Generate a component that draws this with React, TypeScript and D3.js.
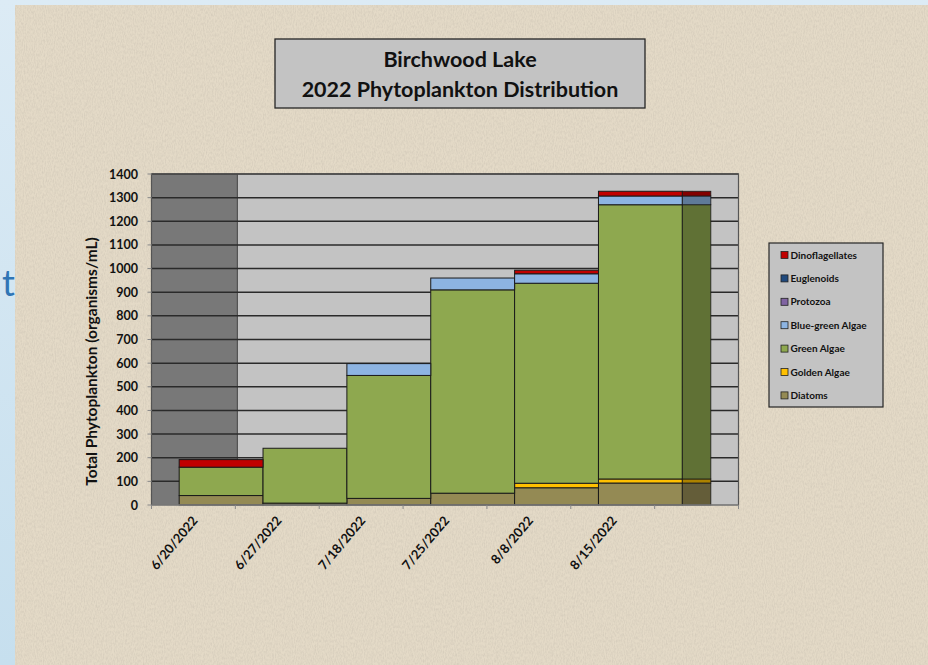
import { useEffect, useRef } from 'react';
import * as d3 from 'd3';

const dates = ["6/20/2022", "6/27/2022", "7/18/2022", "7/25/2022", "8/8/2022", "8/15/2022"];
const diatoms = [40, 8, 28, 50, 73, 93];
const goldenAlgae = [0, 0, 0, 0, 19, 17];
const greenAlgae = [120, 232, 520, 860, 846, 1160];
const blueGreenAlgae = [0, 0, 50, 50, 40, 37];
const protozoa = [0, 0, 0, 0, 0, 0];
const euglenoids = [0, 0, 0, 0, 0, 0];
const dinoflagellates = [32, 0, 0, 0, 15, 20];

// bottom to top
const seriesNames = ["Diatoms", "Golden Algae", "Green Algae", "Blue-green Algae", "Protozoa", "Euglenoids", "Dinoflagellates"];
const seriesColors = ["#948a54", "#ffc000", "#8ea84f", "#8db4e2", "#8064a2", "#1f497d", "#c00000"];
const yTicks = [0, 100, 200, 300, 400, 500, 600, 700, 800, 900, 1000, 1100, 1200, 1300, 1400];

const W = 928;
const H = 665;
const FONT = "Lato, 'Open Sans', sans-serif";

export default function App() {
  const ref = useRef<SVGSVGElement>(null);

  useEffect(() => {
    if (!ref.current) return;
    const svg = d3.select(ref.current);
    svg.selectAll("*").remove();

    const values = [diatoms, goldenAlgae, greenAlgae, blueGreenAlgae, protozoa, euglenoids, dinoflagellates];
    const rows = dates.map((d, i) => {
      const r: any = { date: d };
      seriesNames.forEach((s, j) => (r[s] = values[j][i]));
      return r;
    });
    const stacked = d3.stack<any>().keys(seriesNames)(rows);

    const left = 151.5, right = 738.5, top = 174, bottom = 505;
    // one empty slot after the last sample date
    const x = d3.scaleBand<string>().domain([...dates, ""]).range([left, right]).padding(0);
    const y = d3.scaleLinear().domain([0, 1400]).range([bottom, top]);
    const bw = x.bandwidth();
    const shift = bw * 0.33;

    // slide background
    const defs = svg.append("defs");
    const bg = defs.append("linearGradient").attr("id", "slideBg").attr("x1", "0").attr("x2", "0").attr("y1", "0").attr("y2", "1");
    bg.append("stop").attr("offset", "0%").attr("stop-color", "#dcebf5");
    bg.append("stop").attr("offset", "100%").attr("stop-color", "#c6dfee");
    const filt = defs.append("filter").attr("id", "burlap").attr("x", 0).attr("y", 0).attr("width", 1).attr("height", 1);
    filt.append("feTurbulence").attr("type", "fractalNoise").attr("baseFrequency", "0.9 0.35").attr("numOctaves", 2).attr("seed", 4).attr("result", "n");
    filt.append("feColorMatrix").attr("type", "matrix")
      .attr("values", "0 0 0 0 0.55  0 0 0 0 0.5  0 0 0 0 0.42  0 0 0 -1.6 1.05");

    svg.append("rect").attr("width", W).attr("height", H).attr("fill", "url(#slideBg)");
    svg.append("text").attr("x", 2).attr("y", 296).attr("fill", "#2f75b5")
      .style("font-family", FONT).style("font-size", "36px").text("t");
    svg.append("rect").attr("x", 15).attr("y", 5).attr("width", W - 15).attr("height", H - 5).attr("fill", "#e4dac7");
    svg.append("rect").attr("x", 15).attr("y", 5).attr("width", W - 15).attr("height", H - 5)
      .attr("filter", "url(#burlap)").attr("opacity", 0.5);

    // title box
    svg.append("rect").attr("x", 275).attr("y", 39).attr("width", 370).attr("height", 69)
      .attr("fill", "#c3c3c3").attr("stroke", "#262626").attr("stroke-width", 1.3);
    ["Birchwood Lake", "2022 Phytoplankton Distribution"].forEach((t, i) => {
      svg.append("text").attr("x", 460).attr("y", 67 + i * 30).attr("text-anchor", "middle")
        .style("font-family", FONT).style("font-weight", "bold").style("font-size", "21.5px")
        .attr("fill", "#111").text(t);
    });

    // plot area
    svg.append("rect").attr("x", left).attr("y", top).attr("width", right - left).attr("height", bottom - top)
      .attr("fill", "#c3c3c3");
    svg.append("rect").attr("x", x(dates[0])!).attr("y", top).attr("width", bw + 2).attr("height", bottom - top)
      .attr("fill", "#787878");
    svg.append("line").attr("x1", x(dates[0])! + bw + 2).attr("x2", x(dates[0])! + bw + 2)
      .attr("y1", top).attr("y2", bottom).attr("stroke", "#444").attr("stroke-width", 1);

    svg.append("g").selectAll("line").data(yTicks.filter(t => t > 0)).join("line")
      .attr("x1", left).attr("x2", right).attr("y1", d => y(d)).attr("y2", d => y(d))
      .attr("stroke", "#2a2a2a").attr("stroke-width", 1.5);

    // bars
    const g = svg.append("g");
    stacked.forEach((s, j) => {
      g.selectAll(null).data(s.filter(d => d[1] - d[0] > 0)).join("rect")
        .attr("x", d => x(d.data.date)! + shift)
        .attr("y", d => y(d[1]))
        .attr("width", bw)
        .attr("height", d => y(d[0]) - y(d[1]))
        .attr("fill", seriesColors[j])
        .attr("stroke", "#1a1a1a").attr("stroke-width", 1);
    });
    // shaded strip to the right of the last bar
    const lastDate = dates[dates.length - 1];
    stacked.forEach((s, j) => {
      const d = s[s.length - 1];
      if (d[1] - d[0] <= 0) return;
      g.append("rect")
        .attr("x", x(lastDate)! + shift + bw)
        .attr("y", y(d[1]))
        .attr("width", bw * 0.34)
        .attr("height", y(d[0]) - y(d[1]))
        .attr("fill", d3.color(seriesColors[j])!.darker(1.1).formatHex())
        .attr("stroke", "#1a1a1a").attr("stroke-width", 0.8);
    });

    // plot border and axes
    svg.append("rect").attr("x", left).attr("y", top).attr("width", right - left).attr("height", bottom - top)
      .attr("fill", "none").attr("stroke", "#555").attr("stroke-width", 1.2);
    svg.append("line").attr("x1", left).attr("x2", right).attr("y1", bottom).attr("y2", bottom)
      .attr("stroke", "#8a8a8a").attr("stroke-width", 1.2);

    const yAxis = svg.append("g");
    yTicks.forEach(t => {
      yAxis.append("line").attr("x1", left - 4).attr("x2", left).attr("y1", y(t)).attr("y2", y(t))
        .attr("stroke", "#888").attr("stroke-width", 1);
      yAxis.append("text").attr("x", 138).attr("y", y(t)).attr("dy", "0.36em").attr("text-anchor", "end")
        .style("font-family", FONT).style("font-weight", "bold").style("font-size", "12.5px")
        .attr("fill", "#111").text(t);
    });
    svg.append("text").attr("transform", `translate(97,${(top + bottom) / 2 + 22}) rotate(-90)`)
      .attr("text-anchor", "middle")
      .style("font-family", FONT).style("font-weight", "bold").style("font-size", "15.5px")
      .attr("fill", "#111").text("Total Phytoplankton (organisms/mL)");

    const xAxis = svg.append("g");
    [...x.domain().map(d => x(d)!), right].forEach(px => {
      xAxis.append("line").attr("x1", px).attr("x2", px).attr("y1", bottom).attr("y2", bottom + 4)
        .attr("stroke", "#888").attr("stroke-width", 1);
    });
    dates.forEach(d => {
      const cx = x(d)! + bw / 2;
      xAxis.append("text").attr("transform", `translate(${cx + 5},${bottom + 16}) rotate(-50)`)
        .attr("text-anchor", "end")
        .style("font-family", FONT).style("font-weight", "bold").style("font-size", "13px")
        .attr("fill", "#111").text(d);
    });

    // legend
    const lg = svg.append("g");
    lg.append("rect").attr("x", 769).attr("y", 243).attr("width", 114).attr("height", 164)
      .attr("fill", "#c3c3c3").attr("stroke", "#262626").attr("stroke-width", 1.2);
    const legendOrder = seriesNames.map((n, i) => ({ n, c: seriesColors[i] })).reverse();
    legendOrder.forEach((item, i) => {
      const ly = 255 + i * 23.4;
      lg.append("rect").attr("x", 781).attr("y", ly - 3.5).attr("width", 7).attr("height", 7)
        .attr("fill", item.c).attr("stroke", "#222").attr("stroke-width", 0.8);
      lg.append("text").attr("x", 790.5).attr("y", ly).attr("dy", "0.35em")
        .style("font-family", FONT).style("font-weight", "bold").style("font-size", "10px")
        .attr("fill", "#111").text(item.n);
    });
  }, []);

  return (
    <div style={{ position: "fixed", left: 0, top: 0, width: W, height: H }}>
      <svg ref={ref} width={W} height={H} style={{ display: "block" }} />
    </div>
  );
}
